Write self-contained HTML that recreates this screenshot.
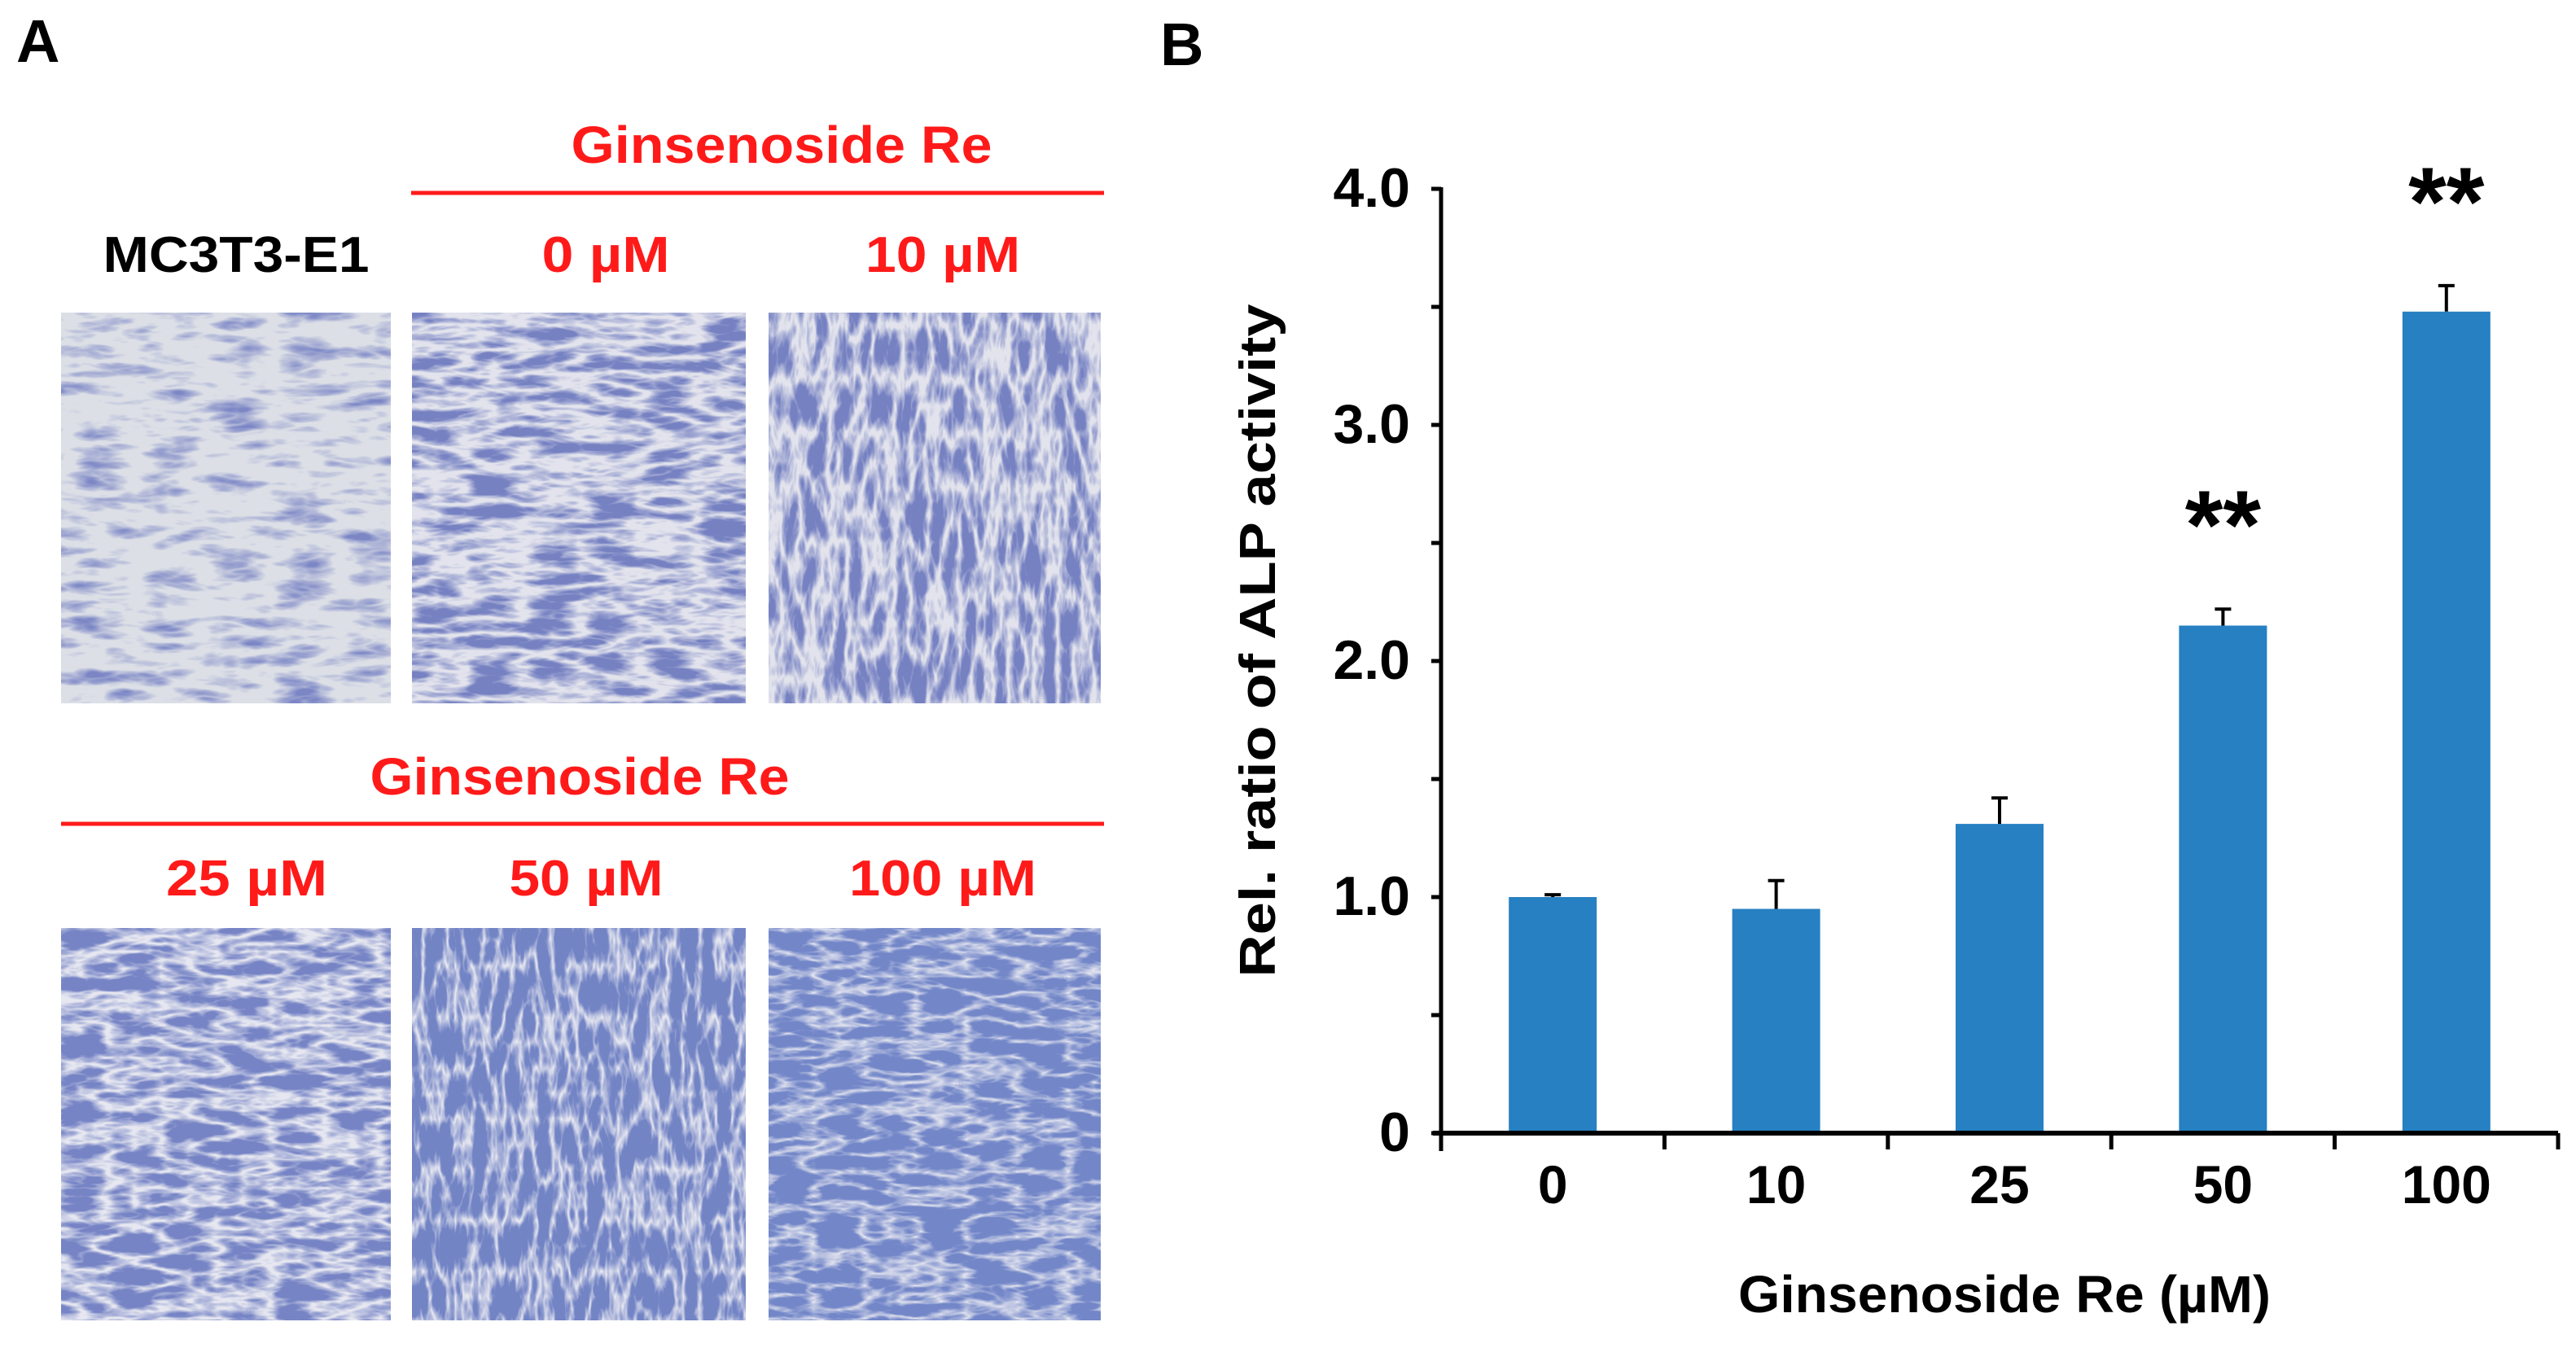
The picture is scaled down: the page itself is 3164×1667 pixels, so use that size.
<!DOCTYPE html>
<html><head><meta charset="utf-8"><style>
html,body{margin:0;padding:0;background:#fff;}
svg{display:block;}
text{font-family:"Liberation Sans",Arial,sans-serif;font-weight:bold;}
</style></head><body>
<svg id="fig" width="3164" height="1667" viewBox="0 0 3164 1667" xmlns="http://www.w3.org/2000/svg">
<defs>
  <filter id="st1" x="0" y="0" width="100%" height="100%"><feTurbulence type="turbulence" baseFrequency="0.012 0.045" numOctaves="3" seed="3"/><feColorMatrix values="0 0 0 0 0.2  0 0 0 0 0.24  0 0 0 0 0.56  2.2 0 0 0 -0.55"/></filter>
  <filter id="st2" x="0" y="0" width="100%" height="100%"><feTurbulence type="turbulence" baseFrequency="0.014 0.05" numOctaves="3" seed="7"/><feColorMatrix values="0 0 0 0 0.18  0 0 0 0 0.22  0 0 0 0 0.54  2.8 0 0 0 -0.4"/></filter>
  <filter id="st3" x="0" y="0" width="100%" height="100%"><feTurbulence type="turbulence" baseFrequency="0.05 0.015" numOctaves="3" seed="11"/><feColorMatrix values="0 0 0 0 0.18  0 0 0 0 0.22  0 0 0 0 0.54  2.8 0 0 0 -0.35"/></filter>
  <filter id="st4" x="0" y="0" width="100%" height="100%"><feTurbulence type="turbulence" baseFrequency="0.015 0.05" numOctaves="3" seed="17"/><feColorMatrix values="0 0 0 0 0.18  0 0 0 0 0.23  0 0 0 0 0.56  2.9 0 0 0 -0.25"/></filter>
  <filter id="st5" x="0" y="0" width="100%" height="100%"><feTurbulence type="turbulence" baseFrequency="0.05 0.016" numOctaves="3" seed="23"/><feColorMatrix values="0 0 0 0 0.17  0 0 0 0 0.23  0 0 0 0 0.56  3.0 0 0 0 -0.12"/></filter>
  <filter id="st6" x="0" y="0" width="100%" height="100%"><feTurbulence type="turbulence" baseFrequency="0.016 0.05" numOctaves="3" seed="31"/><feColorMatrix values="0 0 0 0 0.17  0 0 0 0 0.24  0 0 0 0 0.58  3.0 0 0 0 -0.02"/></filter>
</defs>

<g>
  <text x="20" y="76" font-size="74" fill="#000">A</text>
  <text x="960" y="200" font-size="64" fill="#ff1a1a" text-anchor="middle" textLength="517" lengthAdjust="spacingAndGlyphs">Ginsenoside Re</text>
  <line x1="505" y1="237" x2="1356" y2="237" stroke="#ff1a1a" stroke-width="5"/>
  <text x="290" y="334" font-size="62" fill="#000" text-anchor="middle" textLength="327" lengthAdjust="spacingAndGlyphs">MC3T3-E1</text>
  <text x="744" y="334" font-size="62" fill="#ff1a1a" text-anchor="middle" textLength="157" lengthAdjust="spacingAndGlyphs">0 µM</text>
  <text x="1158" y="334" font-size="62" fill="#ff1a1a" text-anchor="middle" textLength="190" lengthAdjust="spacingAndGlyphs">10 µM</text>

  <g><rect x="75" y="384" width="405" height="480" fill="#dcdfe6"/><rect x="75" y="384" width="405" height="480" filter="url(#st1)"/></g>
  <g><rect x="506" y="384" width="410" height="480" fill="#e2e3ec"/><rect x="506" y="384" width="410" height="480" filter="url(#st2)"/></g>
  <g><rect x="944" y="384" width="408" height="480" fill="#e2e3ec"/><rect x="944" y="384" width="408" height="480" filter="url(#st3)"/></g>

  <text x="712" y="976" font-size="64" fill="#ff1a1a" text-anchor="middle" textLength="515" lengthAdjust="spacingAndGlyphs">Ginsenoside Re</text>
  <line x1="75" y1="1012" x2="1356" y2="1012" stroke="#ff1a1a" stroke-width="5"/>
  <text x="303" y="1100" font-size="62" fill="#ff1a1a" text-anchor="middle" textLength="198" lengthAdjust="spacingAndGlyphs">25 µM</text>
  <text x="720" y="1100" font-size="62" fill="#ff1a1a" text-anchor="middle" textLength="189" lengthAdjust="spacingAndGlyphs">50 µM</text>
  <text x="1158" y="1100" font-size="62" fill="#ff1a1a" text-anchor="middle" textLength="230" lengthAdjust="spacingAndGlyphs">100 µM</text>

  <g><rect x="75" y="1140" width="405" height="482" fill="#e6e7f0"/><rect x="75" y="1140" width="405" height="482" filter="url(#st4)"/></g>
  <g><rect x="506" y="1140" width="410" height="482" fill="#e6e7f0"/><rect x="506" y="1140" width="410" height="482" filter="url(#st5)"/></g>
  <g><rect x="944" y="1140" width="408" height="482" fill="#e6e7f0"/><rect x="944" y="1140" width="408" height="482" filter="url(#st6)"/></g>
</g>

<g id="chart">
  <text x="1425" y="80" font-size="74" fill="#000">B</text>
</g>
</svg>
<script>
const categories = ["0", "10", "25", "50", "100"];
const values = [1.0, 0.95, 1.31, 2.15, 3.48];
const errors = [0.01, 0.12, 0.11, 0.07, 0.11];
const significance = ["", "", "", "**", "**"];
const yTickValues = [0, 1, 2, 3, 4];
const yTickLabels = ["0", "1.0", "2.0", "3.0", "4.0"];
const yMinorTicks = [0.5, 1.5, 2.5, 3.5];

const NS = "http://www.w3.org/2000/svg";
const g = document.getElementById("chart");
const X0 = 1770, X1 = 3142, Y0 = 1392, YUNIT = 290;
const step = (X1 - X0) / categories.length;
const BW = 108;
function yScale(v){ return Y0 - v * YUNIT; }
function xCenter(i){ return X0 + step * (i + 0.5); }
function mk(tag, attrs){ const e = document.createElementNS(NS, tag); for (const k in attrs) e.setAttribute(k, attrs[k]); g.appendChild(e); return e; }

categories.forEach((c, i) => {
  const top = yScale(values[i]);
  const b = mk("rect", {x: xCenter(i) - BW/2, y: top, width: BW, height: Y0 - top, fill: "#2680c2"});
  
  
  const et = yScale(values[i] + errors[i]);
  const el = mk("path", {d: `M${xCenter(i)},${top} V${et} M${xCenter(i)-10},${et} H${xCenter(i)+10}`, stroke: "#000", "stroke-width": 4, fill: "none"});
  
  
  if (significance[i]) {
    const s = mk("text", {x: xCenter(i), y: et - 62, "font-size": 120, "text-anchor": "middle", fill: "#000"});
    s.textContent = significance[i];
    
    
  }
  const lab = mk("text", {x: xCenter(i), y: 1478, "font-size": 66, "text-anchor": "middle", fill: "#000"});
  lab.textContent = c;
  
  
});

const ya = mk("line", {x1: X0, y1: yScale(4) - 2, x2: X0, y2: Y0 + 22, stroke: "#000", "stroke-width": 5});


const xa = mk("line", {x1: X0 - 10, y1: Y0, x2: X1, y2: Y0, stroke: "#000", "stroke-width": 6});


for (let i = 0; i <= categories.length; i++) {
  const t = mk("line", {x1: X0 + step*i, y1: Y0, x2: X0 + step*i, y2: Y0 + 20, stroke: "#000", "stroke-width": 5});
  
  
}
yTickValues.forEach((v, i) => {
  const t = mk("line", {x1: X0 - 12, y1: yScale(v), x2: X0, y2: yScale(v), stroke: "#000", "stroke-width": 5});
  
  
  const l = mk("text", {x: 1732, y: yScale(v) + 22, "font-size": 68, "text-anchor": "end", fill: "#000"});
  l.textContent = yTickLabels[i];
  
  
});
yMinorTicks.forEach(v => {
  const t = mk("line", {x1: X0 - 12, y1: yScale(v), x2: X0, y2: yScale(v), stroke: "#000", "stroke-width": 5});
  
  
});

const yt = mk("text", {x: 0, y: 0, "font-size": 62, "text-anchor": "middle", fill: "#000", transform: "translate(1566,787) rotate(-90)", textLength: 827, lengthAdjust: "spacingAndGlyphs"});
yt.textContent = "Rel. ratio of ALP activity";


const xt = mk("text", {x: 2462, y: 1612, "font-size": 64, "text-anchor": "middle", fill: "#000", textLength: 654, lengthAdjust: "spacingAndGlyphs"});
xt.textContent = "Ginsenoside Re (µM)";


</script>
</body></html>
